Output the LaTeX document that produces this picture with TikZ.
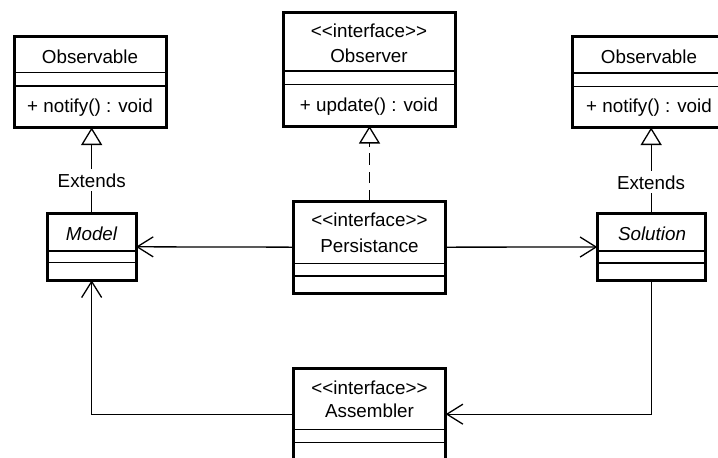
\documentclass[tikz,border=0pt]{standalone}
\usepackage{fontspec}
\setmainfont{Liberation Sans}[Ligatures=TeXOff]
\usetikzlibrary{arrows.meta}

\tikzset{
  classbox/.style={draw, rectangle, line width=1.5pt, inner sep=0pt, outer sep=0pt},
  divider/.style={line width=0.65pt},
  classtext/.style={anchor=base, inner sep=0pt, font=\fontsize{9.4pt}{11pt}\selectfont},
  abstracttext/.style={classtext, font=\fontsize{9.4pt}{11pt}\selectfont\itshape},
  edgelabel/.style={anchor=base, fill=white, inner sep=2pt, font=\fontsize{9.4pt}{11pt}\selectfont},
  assoc/.style={line width=0.65pt, -{Straight Barb[length=8pt, width=10pt, line width=0.65pt]}},
  generalize/.style={line width=0.65pt, -{Triangle[open, length=8.75pt, width=10.5pt, line width=0.65pt]}},
  realize/.style={generalize, dash pattern=on 5.8pt off 3.3pt}
}

% class frame: name, left, top, right, bottom, first divider, second divider
\newcommand\umlclass[7]{%
  \pgfmathsetmacro\classw{(#4-#2)*0.5}%
  \pgfmathsetmacro\classh{(#5-#3)*0.5}%
  \node[classbox, minimum width=\classw pt, minimum height=\classh pt] (#1) at ({(#2+#4)/2},{(#3+#5)/2}) {};
  \draw[divider] (#1.west |- 0,#6) -- (#1.east |- 0,#6);
  \draw[divider] (#1.west |- 0,#7) -- (#1.east |- 0,#7);
}

\begin{document}
\begin{tikzpicture}[x=0.5pt, y=-0.5pt]
  \useasboundingbox (0,0) rectangle (718,457);
  \clip (0,0) rectangle (718,457);
  \fill[white] (0,0) rectangle (718,457);

  % classes
  \umlclass{obsleft}{14}{36.5}{166}{127.5}{72.5}{86}
  \umlclass{observer}{283.5}{12.5}{455}{126}{71}{84.3}
  \umlclass{obsright}{572}{36.5}{726}{127.5}{73}{86.5}
  \umlclass{model}{47.3}{213.3}{136}{280.3}{251}{262.7}
  \umlclass{pers}{293.3}{201.3}{445.7}{293}{263.3}{276}
  \umlclass{sol}{597.3}{213.3}{705}{280.7}{251}{263}
  \umlclass{asm}{293.3}{368.3}{445.7}{460}{429.3}{442.3}

  % class texts
  \node[classtext] (obsleft-name) at (90,63.3) {Observable};
  \node[classtext] (obsleft-op) at (90,112.7) {+ notify() : void};
  \node[classtext] (observer-st) at (369,37.3) {<<interface>>};
  \node[classtext] (observer-name) at (369,62.7) {Observer};
  \node[classtext] (observer-op) at (369,111.7) {+ update() : void};
  \node[classtext] (obsright-name) at (649,63.3) {Observable};
  \node[classtext] (obsright-op) at (649,112.7) {+ notify() : void};
  \node[abstracttext] (model-name) at (91.5,240.5) {Model};
  \node[classtext] (pers-st) at (369.5,226.7) {<<interface>>};
  \node[classtext] (pers-name) at (369.5,252.3) {Persistance};
  \node[abstracttext] (sol-name) at (652,240.7) {Solution};
  \node[classtext] (asm-st) at (369.5,394) {<<interface>>};
  \node[classtext] (asm-name) at (369.5,417.3) {Assembler};

  % generalization and realization
  \draw[generalize] (model.north) -- (model.north |- obsleft.south);
  \node[edgelabel] (ext-left) at (91.7,187) {Extends};
  \draw[generalize] (sol.north) -- (sol.north |- obsright.south);
  \node[edgelabel] (ext-right) at (651,189) {Extends};
  \draw[realize] (pers.north) -- (pers.north |- observer.south);

  % associations
  \draw[assoc] (pers.west) -- (model.east);
  \draw[assoc] (pers.east) -- (sol.west);
  \draw[assoc] (asm.west) -| (model.south);
  \draw[assoc] (sol.south) |- (asm.east);
\end{tikzpicture}
\end{document}
